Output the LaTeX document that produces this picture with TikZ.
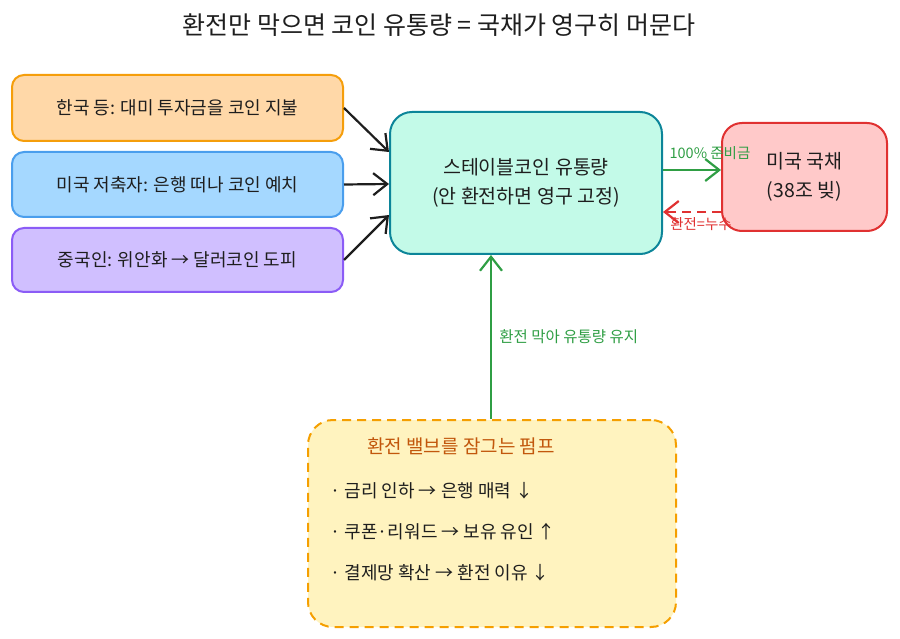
\documentclass[tikz,border=0pt]{standalone}
\usepackage{fontspec}
\setmainfont{Noto Sans CJK KR}
\usetikzlibrary{arrows.meta}
\definecolor{oF}{HTML}{FFD8A8}\definecolor{oS}{HTML}{F59E0B}
\definecolor{bF}{HTML}{A5D8FF}\definecolor{bS}{HTML}{4A9EED}
\definecolor{pF}{HTML}{D0BFFF}\definecolor{pS}{HTML}{8B5CF6}
\definecolor{tF}{HTML}{C3FAE8}\definecolor{tS}{HTML}{0C8599}
\definecolor{rF}{HTML}{FFC9C9}\definecolor{rS}{HTML}{E03131}
\definecolor{yF}{HTML}{FFF3BF}\definecolor{yS}{HTML}{F59F00}
\definecolor{gA}{HTML}{2F9E44}\definecolor{tx}{HTML}{1E1E1E}
\definecolor{brn}{HTML}{C2570C}
\begin{document}
\begin{tikzpicture}[x=1pt,y=-1pt,
 box/.style={draw,line width=2pt,rounded corners=12pt,text=tx,font=\fontsize{18}{24}\selectfont,align=center},
 arr/.style={line width=2.2pt,-{Straight Barb[length=14pt,width=22pt]}},
 lbl/.style={font=\fontsize{14.5}{16}\selectfont}]
\useasboundingbox (0,0) rectangle (900,639);
\node[text=tx,font=\fontsize{25}{28}\selectfont] (title) at (439,25) {환전만 막으면 코인 유통량 = 국채가 영구히 머문다};
\node[box,fill=oF,draw=oS,minimum width=331pt,minimum height=66pt] (kr) at (177.5,108) {한국 등: 대미 투자금을 코인 지불};
\node[box,fill=bF,draw=bS,minimum width=331pt,minimum height=65pt] (us) at (177.5,184.5) {미국 저축자: 은행 떠나 코인 예치};
\node[box,fill=pF,draw=pS,minimum width=331pt,minimum height=64pt] (cn) at (177.5,260) {중국인: 위안화 → 달러코인 도피};
\node[box,fill=tF,draw=tS,rounded corners=22pt,minimum width=272pt,minimum height=142pt,font=\fontsize{19.5}{29}\selectfont] (sc) at (526,183) {스테이블코인 유통량\\(안 환전하면 영구 고정)};
\node[box,fill=rF,draw=rS,rounded corners=20pt,minimum width=165pt,minimum height=108pt,font=\fontsize{19.5}{29}\selectfont] (tb) at (804.5,177) {미국 국채\\(38조 빚)};
\node[box,fill=yF,draw=yS,dashed,dash pattern=on 9pt off 6pt,rounded corners=25pt,minimum width=368pt,minimum height=207pt] (pump) at (492,523.5) {};
\node[text=brn,font=\fontsize{19}{22}\selectfont] (pt) at (461,446) {환전 밸브를 잠그는 펌프};
\node[anchor=west,text=tx,font=\fontsize{18}{22}\selectfont] (l1) at (327,491) {· 금리 인하 → 은행 매력 ↓};
\node[anchor=west,text=tx,font=\fontsize{18}{22}\selectfont] (l2) at (327,532) {· 쿠폰·리워드 → 보유 유인 ↑};
\node[anchor=west,text=tx,font=\fontsize{18}{22}\selectfont] (l3) at (327,573) {· 결제망 확산 → 환전 이유 ↓};
\draw[arr,tx] (kr.east) -- (sc.west |- 0,152);
\draw[arr,tx] (us.east) -- (sc.west |- 0,184);
\draw[arr,tx] (cn.east) -- (sc.west |- 0,215);
\draw[arr,gA] (sc.east |- 0,170) -- (tb.west |- 0,170) node[lbl,midway,above=6pt,text=gA,xshift=18pt] {100\% 준비금};
\draw[arr,rS,dashed,dash pattern=on 9pt off 6pt] (tb.west |- 0,212) -- (sc.east |- 0,212) node[lbl,midway,below=1pt,text=rS,xshift=9pt] {환전=누수};
\draw[arr,gA] (pump.north -| 491,0) -- (sc.south -| 491,0) node[lbl,midway,right=4pt,text=gA,font=\fontsize{15.5}{17}\selectfont] {환전 막아 유통량 유지};
\end{tikzpicture}
\end{document}
